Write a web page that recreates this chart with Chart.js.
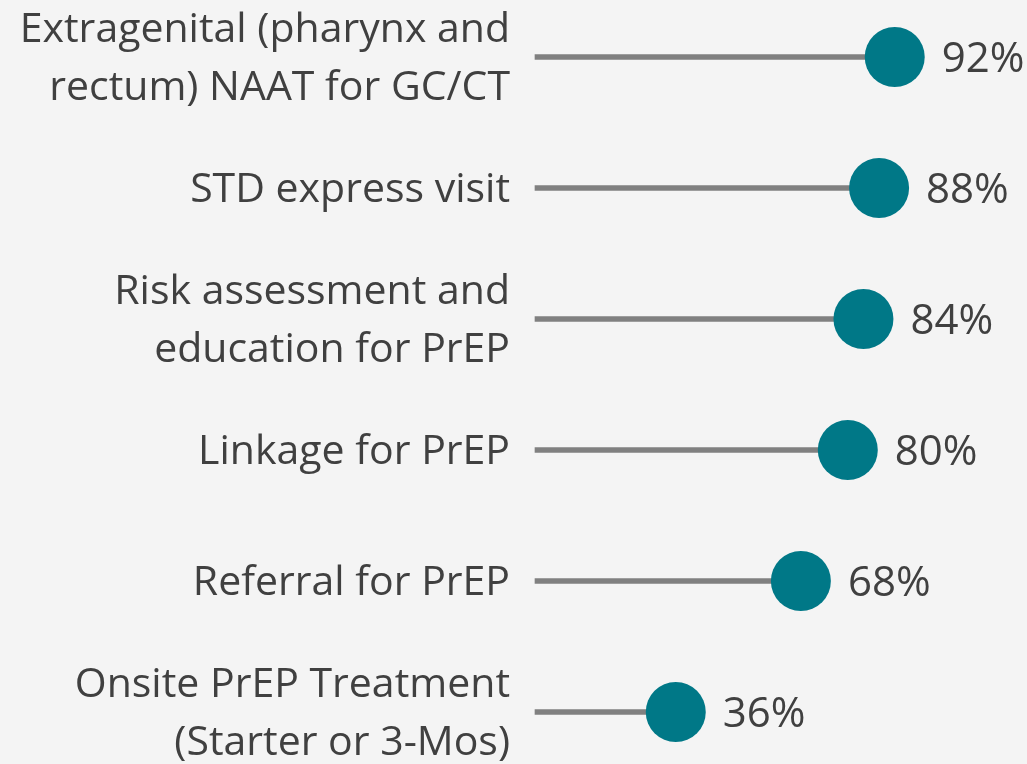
<!DOCTYPE html>
<html>
<head>
<meta charset="utf-8">
<script src="https://cdn.jsdelivr.net/npm/chart.js@4/dist/chart.umd.min.js"></script>
<style>
  html, body { margin: 0; padding: 0; background: #f4f4f4; }
  #wrap { width: 1027px; height: 764px; }
</style>
</head>
<body>
<div id="wrap"><canvas id="chart"></canvas></div>
<script>
// categories (multi-line labels) and values in percent
const categories = [
    ['Extragenital (pharynx and', 'rectum) NAAT for GC/CT'],
    'STD express visit',
    ['Risk assessment and', 'education for PrEP'],
    'Linkage for PrEP',
    'Referral for PrEP',
    ['Onsite PrEP Treatment', '(Starter or 3-Mos)']
];
const values = [92, 88, 84, 80, 68, 36];

const FONT = '"Open Sans", "DejaVu Sans", sans-serif';
const TEXT = '#404040';

// light grey background
const bgPlugin = {
    id: 'bg',
    beforeDraw(chart) {
        const c = chart.ctx;
        c.save();
        c.fillStyle = '#f4f4f4';
        c.fillRect(0, 0, chart.width, chart.height);
        c.restore();
    }
};

// percentages to the right of the dots
const valueLabels = {
    id: 'valueLabels',
    afterDatasetsDraw(chart) {
        const meta = chart.getDatasetMeta(1);
        const c = chart.ctx;
        c.save();
        c.font = '42px ' + FONT;
        c.fillStyle = TEXT;
        c.textAlign = 'left';
        c.textBaseline = 'alphabetic';
        meta.data.forEach((pt, i) => {
            c.fillText(values[i] + '%', pt.x + 47, pt.y + 15);
        });
        c.restore();
    }
};

new Chart(document.getElementById('chart'), {
    type: 'bar',
    data: {
        labels: categories,
        datasets: [
            {
                type: 'bar',
                data: values,
                backgroundColor: '#808080',
                barThickness: 5,
                clip: false,
                order: 2
            },
            {
                type: 'line',
                data: values,
                showLine: false,
                pointRadius: 30,
                pointHoverRadius: 30,
                pointBackgroundColor: '#007887',
                pointBorderWidth: 0,
                clip: false,
                order: 1
            }
        ]
    },
    options: {
        indexAxis: 'y',
        responsive: true,
        maintainAspectRatio: false,
        animation: false,
        events: [],
        layout: {
            padding: { top: 57, bottom: 52, left: 0, right: 101 }
        },
        plugins: {
            legend: { display: false },
            tooltip: { enabled: false }
        },
        scales: {
            x: {
                min: 0,
                max: 100,
                display: false
            },
            y: {
                offset: false,
                grid: { display: false, drawTicks: false },
                border: { display: false },
                ticks: {
                    autoSkip: false,
                    padding: 25,
                    labelOffset: 2,
                    color: TEXT,
                    font: { family: FONT, size: 41, lineHeight: 1.41 }
                },
                afterFit(scale) {
                    scale.width = 535;
                    // labels may overflow the plot area vertically
                    scale.paddingTop = 0;
                    scale.paddingBottom = 0;
                }
            }
        }
    },
    plugins: [bgPlugin, valueLabels]
});
</script>
</body>
</html>
